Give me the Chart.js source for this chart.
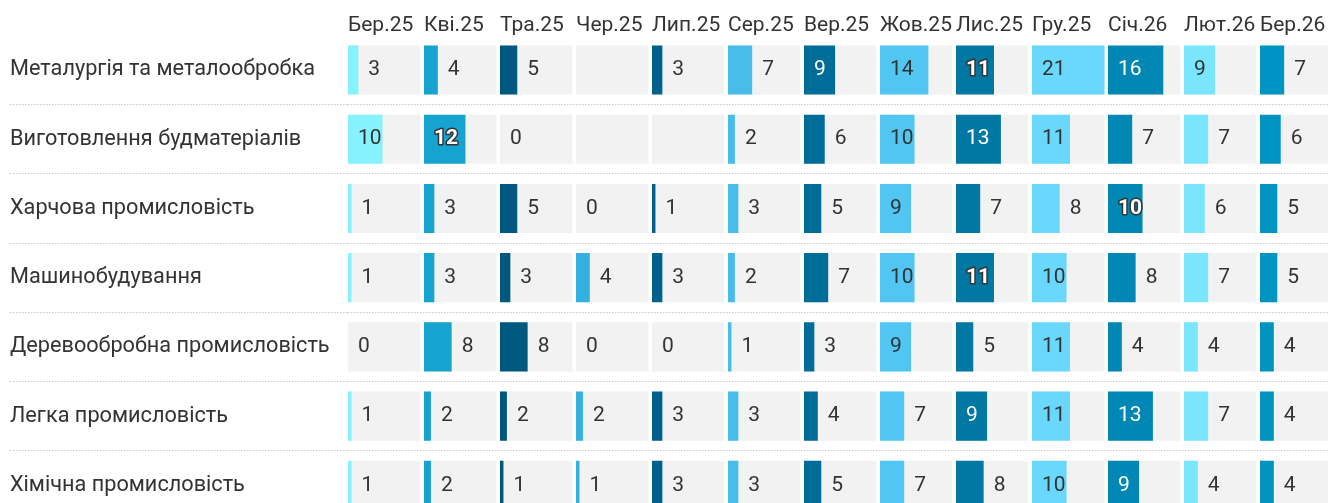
<!DOCTYPE html>
<html lang="uk">
<head>
<meta charset="utf-8">
<title>Галузі промисловості по місяцях</title>
<script src="https://cdn.jsdelivr.net/npm/chart.js@4.4.1/dist/chart.umd.min.js"></script>
<style>
  html, body { margin: 0; padding: 0; background: #fff; overflow: hidden; }
  canvas { display: block; }
</style>
</head>
<body>
<canvas id="galuziChart" width="1336" height="520"></canvas>
<script>
// Колонки таблиці — місяці
const months = ['Бер.25', 'Кві.25', 'Тра.25', 'Чер.25', 'Лип.25', 'Сер.25', 'Вер.25', 'Жов.25', 'Лис.25', 'Гру.25', 'Січ.26', 'Лют.26', 'Бер.26'];

// Рядки таблиці — галузі
const branches = [
    'Металургія та металообробка',
    'Виготовлення будматеріалів',
    'Харчова промисловість',
    'Машинобудування',
    'Деревообробна промисловість',
    'Легка промисловість',
    'Хімічна промисловість'
];

// Значення по місяцях (null — клітинка порожня)
const metalurgiya = [3, 4, 5, null, 3, 7, 9, 14, 11, 21, 16, 9, 7];
const budmaterialy = [10, 12, 0, null, null, 2, 6, 10, 13, 11, 7, 7, 6];
const kharchova = [1, 3, 5, 0, 1, 3, 5, 9, 7, 8, 10, 6, 5];
const mashynobuduvannya = [1, 3, 3, 4, 3, 2, 7, 10, 11, 10, 8, 7, 5];
const derevoobrobna = [0, 8, 8, 0, 0, 1, 3, 9, 5, 11, 4, 4, 4];
const lehka = [1, 2, 2, 2, 3, 3, 4, 7, 9, 11, 13, 7, 4];
const khimichna = [1, 2, 1, 1, 3, 3, 5, 7, 8, 10, 9, 4, 4];

const rows = [metalurgiya, budmaterialy, kharchova, mashynobuduvannya, derevoobrobna, lehka, khimichna];

// Виділені підписи [рядок, колонка]
const highlighted = [[0, 8], [1, 1], [2, 10], [3, 8]];

// Кольори колонок
const colors = ['#86f2fd', '#17a3cf', '#00587e', '#33b0dd', '#00628b', '#48bde9', '#006c98',
                '#52c6f2', '#0078a3', '#6ad7fd', '#0087b3', '#7ae6fd', '#0094c2'];

const FONT = 'Roboto, "Open Sans", sans-serif';
const TEXT = '#333';

// Найбільше значення — ширина сірої клітинки
const cellMax = Math.max(...rows.flat().filter(v => v !== null));

function isLight(hex) {
    const r = parseInt(hex.slice(1, 3), 16);
    const g = parseInt(hex.slice(3, 5), 16);
    const b = parseInt(hex.slice(5, 7), 16);
    return (0.299 * r + 0.587 * g + 0.114 * b) / 255 > 0.55;
}

const datasets = [];
const scales = {
    y: {
        afterFit: (scale) => {
            scale.width = 338;
            // без запасу під крайні підписи
            scale.paddingTop = 0;
            scale.paddingBottom = 0;
        },
        border: { display: false, dash: [1.5, 1.5] },
        grid: {
            offset: true,
            lineWidth: 1,
            color: (c) => c.index === 0 ? 'rgba(0,0,0,0)' : '#c8c8c8',
            tickLength: 338,
            tickBorderDash: [1.5, 1.5]
        },
        ticks: {
            crossAlign: 'far',
            padding: 0,
            color: TEXT,
            font: { family: FONT, size: 21.7 }
        }
    }
};

months.forEach((month, j) => {
    const axisId = 'x' + j;
    // Значення місяця
    datasets.push({
        label: month,
        data: rows.map(r => r[j]),
        xAxisID: axisId,
        backgroundColor: colors[j],
        borderWidth: 0,
        grouped: false,
        order: 1,
        barPercentage: 0.71,
        categoryPercentage: 1
    });
    scales[axisId] = {
        type: 'linear',
        position: 'top',
        stack: 'months',
        stackWeight: 1,
        weight: months.length - j,
        min: 0,
        max: cellMax + 1,
        afterFit: (scale) => { scale.height = 35.4; },
        grid: { display: false, drawTicks: false },
        border: { display: false },
        ticks: { display: false },
        title: {
            display: true,
            text: month,
            align: 'start',
            color: TEXT,
            font: { family: FONT, size: 21 },
            padding: { top: 13.5, bottom: 0 }
        }
    };
});

// Сірі клітинки під стовпчиками
months.forEach((month, j) => {
    datasets.push({
        label: month + ' фон',
        data: rows.map(() => cellMax),
        xAxisID: 'x' + j,
        backgroundColor: '#f2f2f2',
        borderWidth: 0,
        grouped: false,
        order: 2,
        barPercentage: 0.71,
        categoryPercentage: 1
    });
});

// Плагін для підписів значень
const valueLabels = {
    id: 'valueLabels',
    afterDatasetsDraw(chart) {
        const ctx = chart.ctx;
        ctx.save();
        ctx.textBaseline = 'middle';
        ctx.textAlign = 'left';
        ctx.lineJoin = 'round';
        months.forEach((month, j) => {
            const meta = chart.getDatasetMeta(j);
            meta.data.forEach((bar, i) => {
                const value = rows[i][j];
                if (value === null) return;
                const inside = bar.x - bar.base >= 30;
                const x = inside ? bar.base + 10 : bar.x + 10;
                const text = String(value);
                const hl = highlighted.some(h => h[0] === i && h[1] === j);
                if (hl) {
                    ctx.font = 'bold 21px ' + FONT;
                    ctx.lineWidth = 3;
                    ctx.strokeStyle = TEXT;
                    ctx.strokeText(text, x, bar.y);
                    ctx.fillStyle = '#fff';
                    ctx.fillText(text, x, bar.y);
                } else {
                    ctx.font = '21px ' + FONT;
                    ctx.fillStyle = inside && !isLight(colors[j]) ? '#fff' : TEXT;
                    ctx.fillText(text, x, bar.y);
                }
            });
        });
        ctx.restore();
    }
};

const ctx = document.getElementById('galuziChart').getContext('2d');
new Chart(ctx, {
    type: 'bar',
    data: { labels: branches, datasets: datasets },
    options: {
        indexAxis: 'y',
        responsive: false,
        maintainAspectRatio: false,
        animation: false,
        events: [],
        layout: { padding: { left: 10, top: 0, right: 0, bottom: 0 } },
        plugins: {
            legend: { display: false },
            tooltip: { enabled: false }
        },
        scales: scales
    },
    plugins: [valueLabels]
});
</script>
</body>
</html>
